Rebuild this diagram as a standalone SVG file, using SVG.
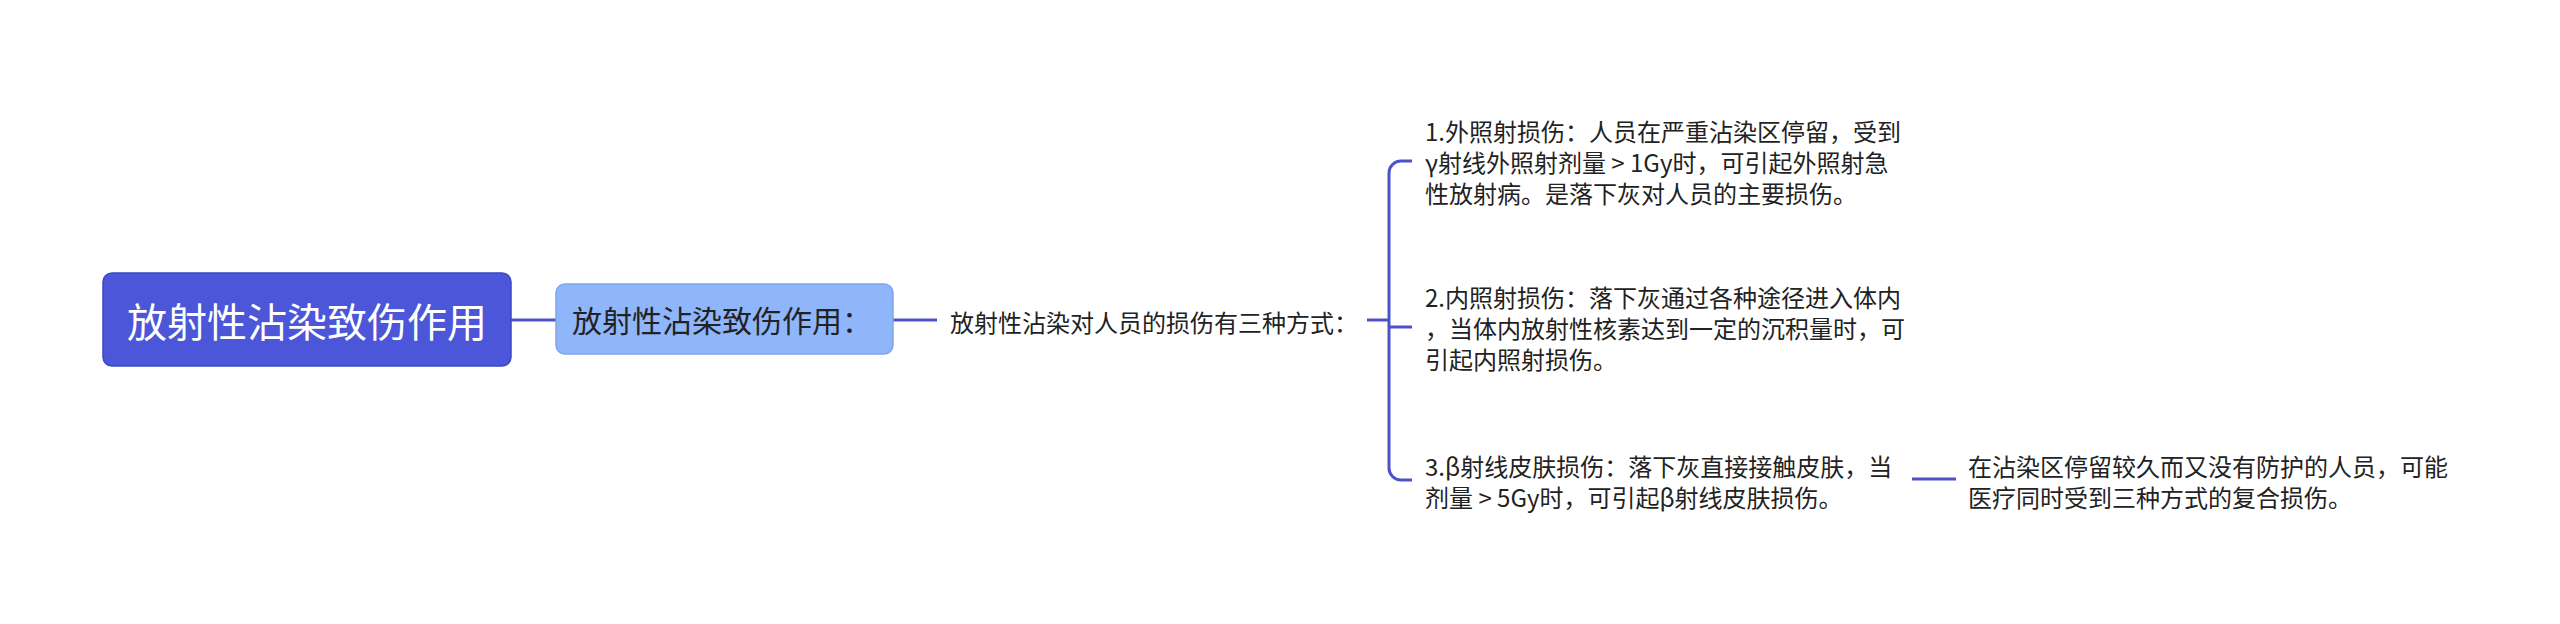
<svg xmlns="http://www.w3.org/2000/svg" width="2560" height="624" viewBox="0 0 2560 624">
<style>
text{font-family:"Noto Sans CJK SC","Noto Sans",sans-serif;dominant-baseline:central}
.root{fill:#4b56d8;stroke:#3d47c4;stroke-width:1.5}
.rootT{fill:#ffffff;font-size:40px}
.sub{fill:#8fb5fa;stroke:#7ea5ee;stroke-width:1.5}
.subT{fill:#222222;font-size:30px}
.t{fill:#222222;font-size:24px}
.c{fill:none;stroke:#4b52cc;stroke-width:3;stroke-linecap:butt}
</style>
<rect width="2560" height="624" fill="#ffffff"/>
<g id="connectors">
<path class="c" d="M511 320H556"/>
<path class="c" d="M893 320H937"/>
<path class="c" d="M1367 320H1389"/>
<path class="c" d="M1412 161H1401A12 12 0 0 0 1389 173V468A12 12 0 0 0 1401 480H1412"/>
<path class="c" d="M1389 327H1412"/>
<path class="c" d="M1912 479H1956"/>
</g>
<g id="root">
<rect class="root" x="103" y="273" width="408" height="93" rx="9"/>
<text class="rootT" x="307" y="319.5" text-anchor="middle">放射性沾染致伤作用</text>
</g>
<g id="sub">
<rect class="sub" x="556" y="284" width="337" height="70" rx="9"/>
<text class="subT" x="572" y="319">放射性沾染致伤作用：</text>
</g>
<g id="label">
<text class="t" x="950" y="321">放射性沾染对人员的损伤有三种方式：</text>
</g>
<g id="item1">
<text class="t" x="1425"><tspan x="1425" y="130">1.外照射损伤：人员在严重沾染区停留，受到</tspan><tspan x="1425" y="161">γ射线外照射剂量 &gt; 1Gy时，可引起外照射急</tspan><tspan x="1425" y="192">性放射病。是落下灰对人员的主要损伤。</tspan></text>
</g>
<g id="item2">
<text class="t" x="1425"><tspan x="1425" y="296">2.内照射损伤：落下灰通过各种途径进入体内</tspan><tspan x="1425" y="327">，当体内放射性核素达到一定的沉积量时，可</tspan><tspan x="1425" y="358">引起内照射损伤。</tspan></text>
</g>
<g id="item3">
<text class="t" x="1425"><tspan x="1425" y="465">3.β射线皮肤损伤：落下灰直接接触皮肤，当</tspan><tspan x="1425" y="496">剂量 &gt; 5Gy时，可引起β射线皮肤损伤。</tspan></text>
</g>
<g id="item4">
<text class="t" x="1968"><tspan x="1968" y="465">在沾染区停留较久而又没有防护的人员，可能</tspan><tspan x="1968" y="496">医疗同时受到三种方式的复合损伤。</tspan></text>
</g>
</svg>
